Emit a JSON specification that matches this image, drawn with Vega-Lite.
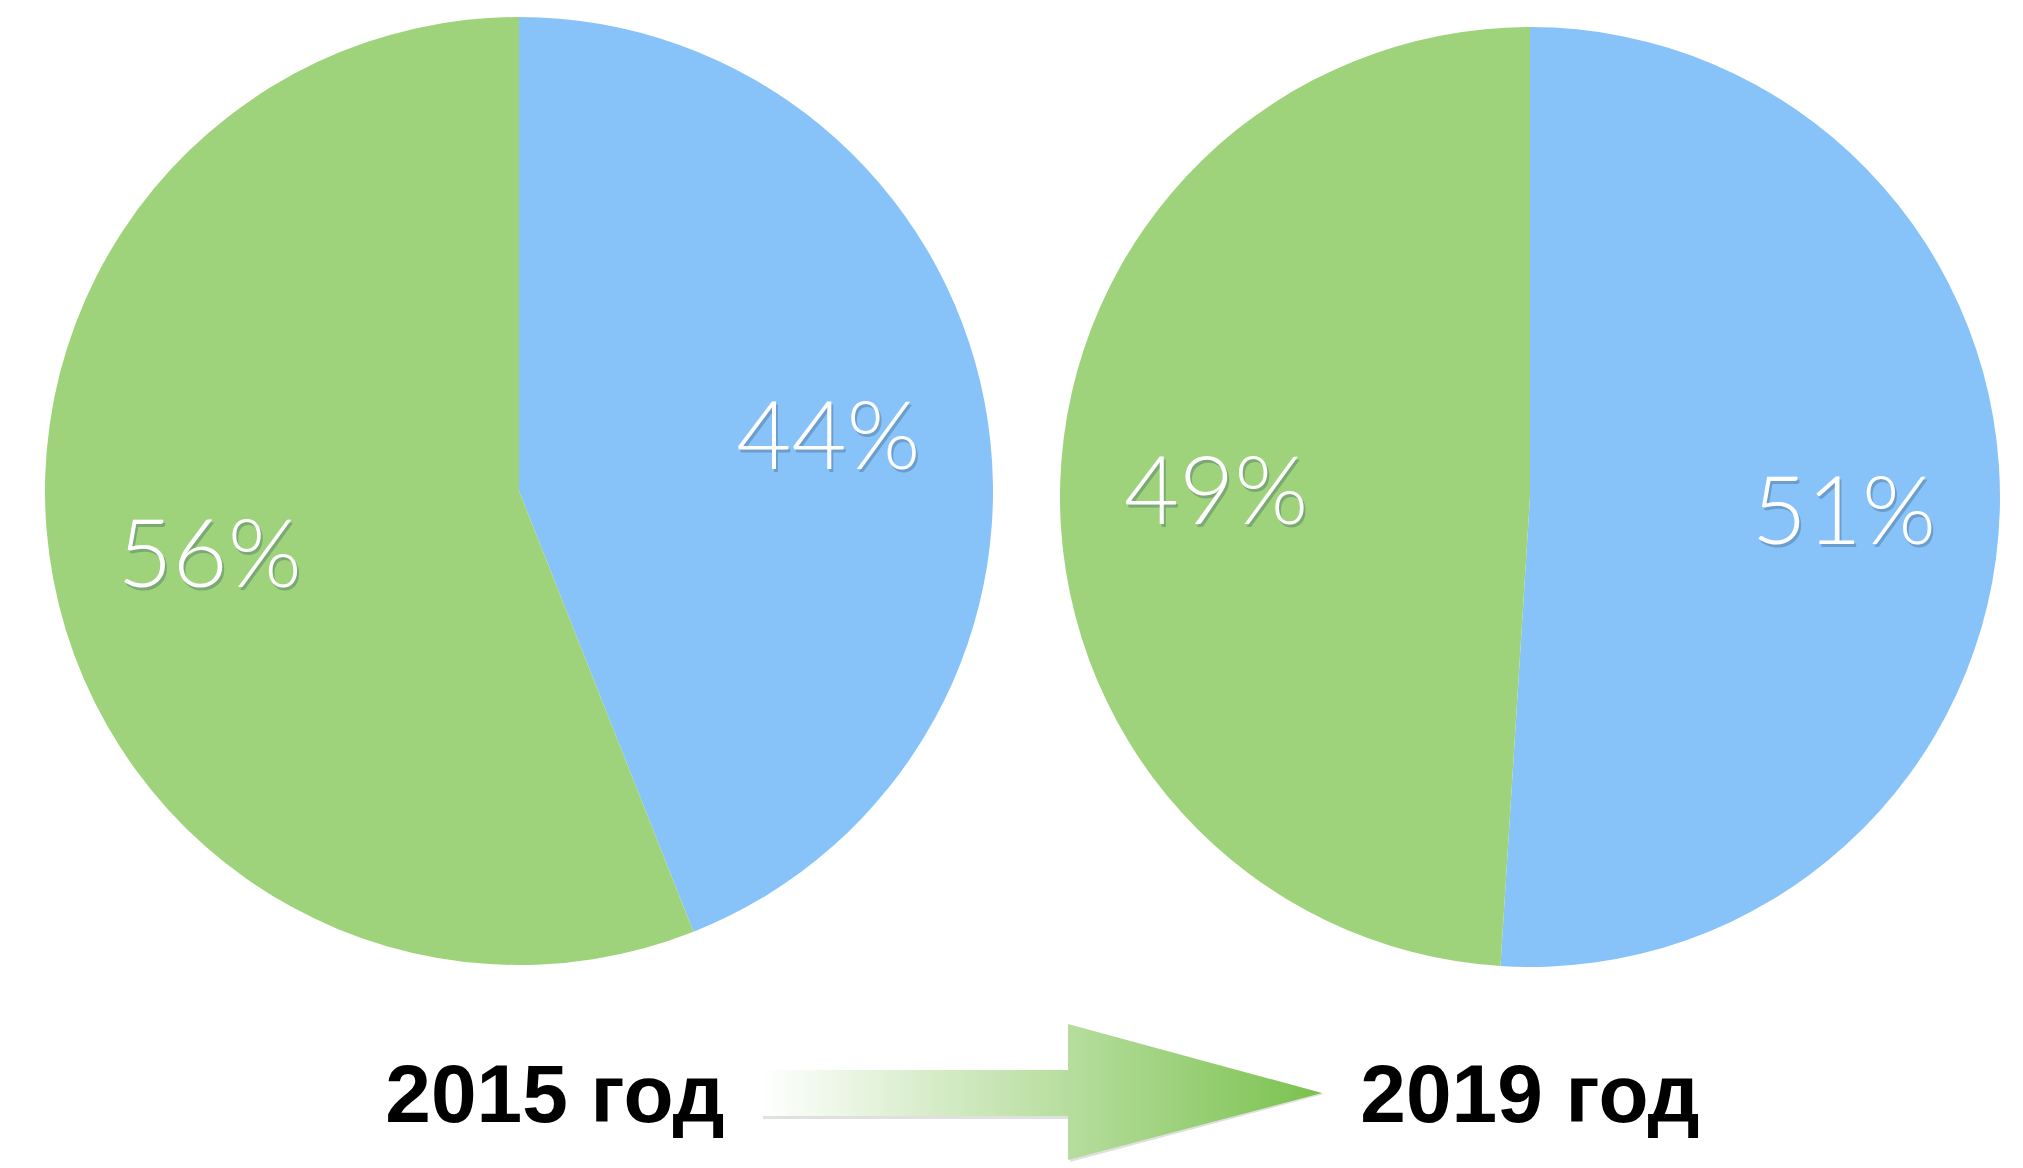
{
  "$schema": "https://vega.github.io/schema/vega-lite/v6.json",
  "padding": 0,
  "background": "white",
  "bounds": "flush",
  "spacing": 0,
  "config": {"view": {"stroke": null}},
  "datasets": {
    "shares": [
      {"year": 2015, "segment": "A", "share": 0.44},
      {"year": 2015, "segment": "B", "share": 0.56},
      {"year": 2019, "segment": "A", "share": 0.51},
      {"year": 2019, "segment": "B", "share": 0.49}
    ],
    "years": [
      {"year": 2015, "label": "2015 год"},
      {"year": 2019, "label": "2019 год"}
    ],
    "deco": [{"item": "arrow"}]
  },
  "hconcat": [
    {
      "width": 1038,
      "height": 982,
      "layer": [
        {
          "data": {"name": "shares"},
          "transform": [{"filter": "datum.year == 2015"}],
          "mark": {"type": "arc", "outerRadius": 474, "stroke": null},
          "encoding": {
            "theta": {"field": "share", "type": "quantitative", "stack": true},
            "order": {"field": "segment", "sort": "ascending"},
            "color": {"field": "segment", "type": "nominal", "legend": null,
              "scale": {"domain": ["A", "B"], "range": ["#87C3F9", "#9ED37B"]}}
          }
        },
        {
          "data": {"name": "shares"},
          "transform": [{"filter": "datum.year == 2015"}],
          "mark": {"type": "text", "radius": 315, "font": "Lato", "fontWeight": 300, "fontSize": 95, "color": "#2c4a66", "opacity": 0.3, "dx": 2, "dy": 11, "baseline": "middle", "align": "center"},
          "encoding": {
            "theta": {"field": "share", "type": "quantitative", "stack": true},
            "order": {"field": "segment", "sort": "ascending"},
            "text": {"field": "share", "type": "quantitative", "format": ".0%"}
          }
        },
        {
          "data": {"name": "shares"},
          "transform": [{"filter": "datum.year == 2015"}],
          "mark": {"type": "text", "radius": 315, "font": "Lato", "fontWeight": 300, "fontSize": 95, "color": "white", "dy": 8, "baseline": "middle", "align": "center"},
          "encoding": {
            "theta": {"field": "share", "type": "quantitative", "stack": true},
            "order": {"field": "segment", "sort": "ascending"},
            "text": {"field": "share", "type": "quantitative", "format": ".0%"}
          }
        },
        {
          "data": {"name": "years"},
          "transform": [{"filter": "datum.year == 2015"}],
          "mark": {"type": "text", "font": "Liberation Sans", "fontWeight": "bold", "fontSize": 82, "color": "black", "dx": 36, "dy": 606, "baseline": "middle", "align": "center"},
          "encoding": {"text": {"field": "label", "type": "nominal"}}
        },
        {
          "data": {"name": "deco"},
          "mark": {"type": "point", "filled": true, "size": 4, "opacity": 0.18, "color": "#555555", "strokeWidth": 0,
            "shape": "M244,581 L551,581 L551,535 L805,603 L551,671 L551,628 L244,628 Z"},
          "encoding": {}
        },
        {
          "data": {"name": "deco"},
          "mark": {"type": "point", "filled": true, "size": 4, "opacity": 1, "strokeWidth": 0,
            "fill": {"gradient": "linear", "x1": 0, "y1": 0, "x2": 1, "y2": 0,
              "stops": [{"offset": 0, "color": "#ffffff"}, {"offset": 1, "color": "#7AC14D"}]},
            "shape": "M242,579 L549,579 L549,533 L803,602 L549,669 L549,625 L242,625 Z"},
          "encoding": {}
        }
      ]
    },
    {
      "width": 984,
      "height": 994,
      "layer": [
        {
          "data": {"name": "shares"},
          "transform": [{"filter": "datum.year == 2019"}],
          "mark": {"type": "arc", "outerRadius": 470, "stroke": null},
          "encoding": {
            "theta": {"field": "share", "type": "quantitative", "stack": true},
            "order": {"field": "segment", "sort": "ascending"},
            "color": {"field": "segment", "type": "nominal", "legend": null,
              "scale": {"domain": ["A", "B"], "range": ["#87C3F9", "#9ED37B"]}}
          }
        },
        {
          "data": {"name": "shares"},
          "transform": [{"filter": "datum.year == 2019"}],
          "mark": {"type": "text", "radius": 314, "font": "Lato", "fontWeight": 300, "fontSize": 95, "color": "#2c4a66", "opacity": 0.3, "dx": 2, "dy": 11, "baseline": "middle", "align": "center"},
          "encoding": {
            "theta": {"field": "share", "type": "quantitative", "stack": true},
            "order": {"field": "segment", "sort": "ascending"},
            "text": {"field": "share", "type": "quantitative", "format": ".0%"}
          }
        },
        {
          "data": {"name": "shares"},
          "transform": [{"filter": "datum.year == 2019"}],
          "mark": {"type": "text", "radius": 314, "font": "Lato", "fontWeight": 300, "fontSize": 95, "color": "white", "dy": 8, "baseline": "middle", "align": "center"},
          "encoding": {
            "theta": {"field": "share", "type": "quantitative", "stack": true},
            "order": {"field": "segment", "sort": "ascending"},
            "text": {"field": "share", "type": "quantitative", "format": ".0%"}
          }
        },
        {
          "data": {"name": "years"},
          "transform": [{"filter": "datum.year == 2019"}],
          "mark": {"type": "text", "font": "Liberation Sans", "fontWeight": "bold", "fontSize": 82, "color": "black", "dx": 0, "dy": 600, "baseline": "middle", "align": "center"},
          "encoding": {"text": {"field": "label", "type": "nominal"}}
        }
      ]
    }
  ]
}
